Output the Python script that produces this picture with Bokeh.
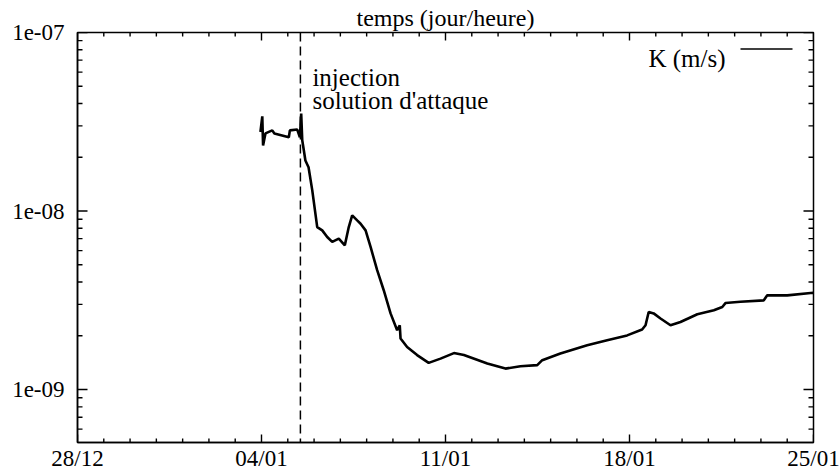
import math
import pandas as pd
from bokeh.plotting import figure
from bokeh.models import (FixedTicker, CustomJSTickFormatter, Span, Label, Arrow, Range1d,
                          ColumnDataSource)
from bokeh.embed import file_html
from bokeh.resources import INLINE

# ---------------- data ----------------
START = pd.Timestamp("1998-12-28")          # origin of the time axis (28/12)
days = [6.96, 7.03, 7.06, 7.15, 7.41, 7.49, 8.04, 8.08, 8.36, 8.46, 8.51, 8.55,
        8.61, 8.67, 8.79, 8.93, 9.12, 9.31, 9.50, 9.69, 9.94, 10.17, 10.32, 10.45,
        10.64, 10.77, 10.96, 11.15, 11.40, 11.65, 11.91, 12.16, 12.26, 12.29, 12.54,
        12.92, 13.36, 13.81, 14.32, 14.70, 15.59, 16.28, 16.85, 17.49, 17.68, 18.37,
        19.39, 20.15, 20.91, 21.48, 21.61, 21.73, 21.92, 22.18, 22.56, 22.94, 23.58,
        24.21, 24.53, 24.65, 25.22, 26.11, 26.24, 27.00, 27.89, 28.0]
k_values = [2.77e-8, 3.39e-8, 2.33e-8, 2.72e-8, 2.83e-8, 2.72e-8, 2.59e-8, 2.83e-8,
            2.86e-8, 2.59e-8, 3.52e-8, 2.49e-8, 2.19e-8, 1.92e-8, 1.76e-8, 1.31e-8,
            8.13e-9, 7.79e-9, 7.15e-9, 6.71e-9, 7.01e-9, 6.43e-9, 8.13e-9, 9.46e-9,
            8.87e-9, 8.49e-9, 7.79e-9, 6.29e-9, 4.66e-9, 3.60e-9, 2.67e-9, 2.15e-9,
            2.29e-9, 1.93e-9, 1.73e-9, 1.56e-9, 1.41e-9, 1.49e-9, 1.60e-9, 1.56e-9,
            1.40e-9, 1.31e-9, 1.35e-9, 1.37e-9, 1.46e-9, 1.59e-9, 1.77e-9, 1.89e-9,
            2.01e-9, 2.17e-9, 2.29e-9, 2.72e-9, 2.67e-9, 2.50e-9, 2.29e-9, 2.39e-9,
            2.64e-9, 2.78e-9, 2.90e-9, 3.05e-9, 3.10e-9, 3.16e-9, 3.37e-9, 3.37e-9,
            3.47e-9, 3.48e-9]
assert len(days) == len(k_values)

x_tick_days = [0, 7, 14, 21, 28]
x_tick_labels = ["28/12", "04/01", "11/01", "18/01", "25/01"]
x_minor_days = [d for d in range(0, 29) if d not in x_tick_days]
y_ticks = [1e-9, 1e-8, 1e-7]
y_minor = [m * d for d in (1e-10, 1e-9, 1e-8) for m in range(2, 10)]
y_min, y_max = 5.05e-10, 1e-7
injection_day = 8.48
legend_label = "K (m/s)"
title_text = "temps (jour/heure)"
note_lines = ["injection", "solution d'attaque"]

FONT = "Liberation Serif"
FRAME_W, FRAME_H = 736, 410


def to_ms(d):
    return (START + pd.Timedelta(days=d)).timestamp() * 1000.0


times = [START + pd.Timedelta(days=d) for d in days]
x0_ms, x1_ms = to_ms(x_tick_days[0]), to_ms(x_tick_days[-1])

p = figure(width=840, height=473, x_axis_type="datetime", y_axis_type="log",
           output_backend="svg", toolbar_location=None,
           x_range=Range1d(x0_ms, x1_ms), y_range=Range1d(y_min, y_max),
           min_border_left=77, min_border_right=27, min_border_top=32,
           min_border_bottom=31)
p.background_fill_color = "white"
p.border_fill_color = "white"
p.outline_line_color = "black"
p.outline_line_width = 1.5
p.xgrid.visible = False
p.ygrid.visible = False

# axis title (top of the frame)
p.title.text = title_text
p.title.align = "center"
p.title.text_font = FONT
p.title.text_font_style = "normal"
p.title.text_font_size = "24px"
p.title.text_color = "black"
p.title.standoff = 3

xticker = FixedTicker(ticks=[to_ms(d) for d in x_tick_days], minor_ticks=[])
yticker = FixedTicker(ticks=y_ticks, minor_ticks=[])
yfmt = CustomJSTickFormatter(code="return tick.toExponential(0).replace(/e([+-])(\\d)$/, 'e$10$2');")
xa = p.xaxis[0]
xa.ticker = xticker
xa.major_label_overrides = {to_ms(d): lab for d, lab in zip(x_tick_days, x_tick_labels)}
ya = p.yaxis[0]
ya.ticker = yticker
ya.formatter = yfmt
for ax in (xa, ya):
    ax.axis_line_color = "black"
    ax.axis_line_width = 1.5
    ax.major_tick_in = 0
    ax.major_tick_out = 0
    ax.minor_tick_in = 0
    ax.minor_tick_out = 0
    ax.major_label_text_font = FONT
    ax.major_label_text_color = "black"
    ax.major_label_text_font_size = "23px"
xa.major_label_standoff = 3
ya.major_label_standoff = 13

# inward ticks on all four sides (gnuplot "mirror" style), built from the tick arrays
ms_per_px = (x1_ms - x0_ms) / FRAME_W
dec_per_px = math.log10(y_max / y_min) / FRAME_H
tk = dict(xs=[], ys=[], xe=[], ye=[])


def add_ytick(v, length):
    dx = length * ms_per_px
    tk["xs"] += [x0_ms, x1_ms]
    tk["xe"] += [x0_ms + dx, x1_ms - dx]
    tk["ys"] += [v, v]
    tk["ye"] += [v, v]


def add_xtick(d, length):
    f = 10 ** (length * dec_per_px)
    xm = to_ms(d)
    tk["xs"] += [xm, xm]
    tk["xe"] += [xm, xm]
    tk["ys"] += [y_min, y_max]
    tk["ye"] += [y_min * f, y_max / f]


for v in y_ticks:
    add_ytick(v, 10)
for v in y_minor:
    add_ytick(v, 5)
for d in x_tick_days:
    add_xtick(d, 8)
for d in x_minor_days:
    add_xtick(d, 4)
p.add_layout(Arrow(x_start="xs", y_start="ys", x_end="xe", y_end="ye",
                   source=ColumnDataSource(tk), start=None, end=None,
                   line_color="black", line_width=1.4))

p.line(times, k_values, line_color="black", line_width=2.6)

p.add_layout(Span(location=to_ms(injection_day), dimension="height",
                  line_color="black", line_width=1.5, line_dash="9 5"))

for i, txt in enumerate(note_lines):
    p.add_layout(Label(x=to_ms(injection_day), y=365 - 23 * i, x_units="data",
                       y_units="screen", x_offset=12, text=txt,
                       text_font=FONT, text_font_size="25px", text_color="black",
                       text_baseline="alphabetic"))

# key: text then line sample (gnuplot style)
p.add_layout(Label(x=648, y=384, x_units="screen", y_units="screen", text=legend_label,
                   text_align="right", text_font=FONT, text_font_size="25px",
                   text_color="black", text_baseline="alphabetic"))
p.add_layout(Arrow(x_start=663, y_start=393.5, x_end=715, y_end=393.5,
                   start_units="screen", end_units="screen", start=None, end=None,
                   line_color="black", line_width=1.5))

open("out.html", "w").write(file_html(p, INLINE))
